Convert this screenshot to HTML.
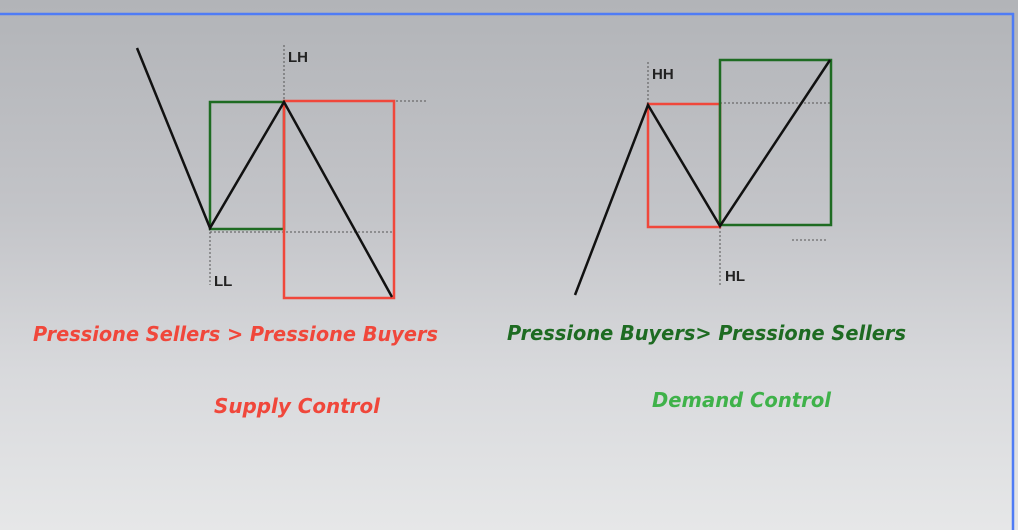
<!DOCTYPE html>
<html><head><meta charset="utf-8"><style>
html,body{margin:0;padding:0}
body{width:1018px;height:530px;overflow:hidden;background:linear-gradient(#b2b4b8 0%,#c3c4c8 40%,#d8d9dc 70%,#e6e7e8 100%)}
svg{display:block}
</style></head><body>
<svg width="1018" height="530" xmlns="http://www.w3.org/2000/svg">
<line x1="0" y1="14" x2="1014" y2="14" stroke="#4f7cf5" stroke-width="2.5"/>
<line x1="1013" y1="13" x2="1013" y2="530" stroke="#4f7cf5" stroke-width="2.5"/>
<g fill="none" stroke="#555" stroke-width="1" stroke-dasharray="2,2">
<line x1="284" y1="45" x2="284" y2="100"/>
<line x1="396" y1="101" x2="428" y2="101"/>
<line x1="210" y1="232" x2="394" y2="232"/>
<line x1="210" y1="232" x2="210" y2="285"/>
<line x1="648" y1="62" x2="648" y2="103"/>
<line x1="720" y1="103" x2="830" y2="103"/>
<line x1="720" y1="227" x2="720" y2="286"/>
<line x1="792" y1="240" x2="828" y2="240"/>
</g>
<rect x="210" y="102" width="74" height="127" fill="none" stroke="#1e6b22" stroke-width="2.5"/>
<rect x="284" y="101" width="110" height="197" fill="none" stroke="#f0473b" stroke-width="2.5"/>
<rect x="648" y="104" width="72" height="123" fill="none" stroke="#f0473b" stroke-width="2.5"/>
<rect x="720" y="60" width="111" height="165" fill="none" stroke="#1e6b22" stroke-width="2.5"/>
<polyline points="137,48 210,228 284,102 392,297" fill="none" stroke="#111" stroke-width="2.5"/>
<polyline points="575,295 648,105 720,226 830,60" fill="none" stroke="#111" stroke-width="2.5"/>
<g font-family="Liberation Sans, sans-serif" font-weight="bold" font-size="15" fill="#222">
<text x="288" y="62">LH</text>
<text x="214" y="286">LL</text>
<text x="652" y="79">HH</text>
<text x="725" y="281">HL</text>
</g>
<g font-family="DejaVu Sans, sans-serif" font-weight="bold" font-style="italic" font-size="20">
<text x="33" y="341" fill="#f0473b" textLength="405" lengthAdjust="spacingAndGlyphs">Pressione Sellers &gt; Pressione Buyers</text>
<text x="214" y="413" fill="#f0473b" textLength="166" lengthAdjust="spacingAndGlyphs">Supply Control</text>
<text x="507" y="340" fill="#1e6b22" textLength="399" lengthAdjust="spacingAndGlyphs">Pressione Buyers&gt; Pressione Sellers</text>
<text x="652" y="407" fill="#3fb24a" textLength="179" lengthAdjust="spacingAndGlyphs">Demand Control</text>
</g>
</svg>
</body></html>
